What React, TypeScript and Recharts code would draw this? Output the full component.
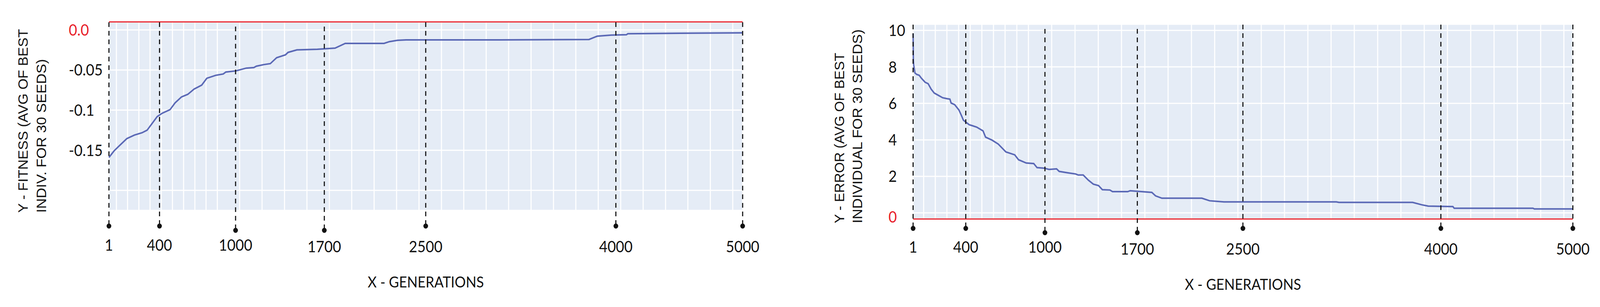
import React from 'react';
import { LineChart, Line, XAxis, YAxis, CartesianGrid, ReferenceLine } from 'recharts';

// marked generations on the x axis
const MARK_GENS = [1, 400, 1000, 1700, 2500, 4000, 5000];
const MARK_LABELS = ['1', '400', '1000', '1700', '2500', '4000', '5000'];
const LOWERED_MARKS = [1000, 1700];

// left panel: fitness of best individual (avg of 30 seeds)
const FITNESS_GENS = [
  1, 42, 82, 142, 202, 262, 302, 342, 382, 422, 483, 523, 573, 623, 673, 733, 773, 843, 903, 923,
  1004, 1084, 1144, 1164, 1224, 1274, 1324, 1394, 1414, 1484, 1645, 1785, 1865, 2171, 2214, 2280,
  2345, 3088, 3788, 3853, 3963, 4083, 4094, 4509, 5000,
];
const FITNESS_VALUES = [
  -0.159, -0.1507, -0.1446, -0.1355, -0.1311, -0.1282, -0.125, -0.1165, -0.108, -0.1038, -0.0994,
  -0.0909, -0.0836, -0.0803, -0.0737, -0.0688, -0.0603, -0.0566, -0.0549, -0.0525, -0.051, -0.0476,
  -0.0469, -0.0452, -0.0432, -0.042, -0.0346, -0.031, -0.028, -0.0249, -0.0241, -0.0227, -0.0168,
  -0.0168, -0.0146, -0.0129, -0.0124, -0.0124, -0.0119, -0.0078, -0.0065, -0.006, -0.0048, -0.0041,
  -0.0036,
];
const FITNESS_TICKS = [0, -0.05, -0.1, -0.15, -0.2];
const FITNESS_TICK_LABELS = ['0.0', '-0.05', '-0.1', '-0.15', ''];
const FITNESS_TITLE = ['Y - FITNESS (AVG OF BEST', 'INDIV. FOR 30 SEEDS)'];

// right panel: error of best individual (avg of 30 seeds)
const ERROR_GENS = [
  1, 3, 5, 15, 28, 47, 65, 92, 115, 138, 161, 193, 225, 257, 280, 289, 316, 348, 367, 382, 426, 444,
  483, 531, 550, 598, 646, 704, 771, 800, 858, 915, 940, 992, 1031, 1088, 1108, 1175, 1233, 1252,
  1290, 1329, 1367, 1406, 1435, 1492, 1512, 1627, 1646, 1810, 1838, 1886, 2189, 2248, 2356, 3208,
  3228, 3786, 3855, 3904, 4091, 4101, 4698, 4708, 5000,
];
const ERROR_VALUES = [
  9.83, 8.39, 8.13, 7.67, 7.59, 7.54, 7.37, 7.16, 7.08, 6.78, 6.57, 6.44, 6.31, 6.26, 6.23, 6.02,
  5.93, 5.64, 5.34, 5.08, 4.83, 4.79, 4.7, 4.49, 4.15, 3.99, 3.77, 3.34, 3.18, 2.91, 2.73, 2.7, 2.48,
  2.45, 2.38, 2.41, 2.27, 2.19, 2.13, 2.07, 2.07, 1.79, 1.57, 1.49, 1.27, 1.25, 1.16, 1.16, 1.21,
  1.12, 0.93, 0.8, 0.8, 0.66, 0.6, 0.6, 0.57, 0.57, 0.44, 0.37, 0.34, 0.25, 0.25, 0.21, 0.21,
];
const ERROR_TICKS = [0, 2, 4, 6, 8, 10];
const ERROR_TICK_LABELS = ['0', '2', '4', '6', '8', '10'];
const ERROR_TITLE = ['Y - ERROR (AVG OF BEST', 'INDIVIDUAL FOR 30 SEEDS)'];

const X_TITLE = 'X - GENERATIONS';

const BLUE = '#5b69b6';
const RED = '#e8202a';
const INK = '#111111';
const PLOT_BG = '#e5ecf6';
const TICK_FONT = 'Lato, "Open Sans", sans-serif';
const TITLE_FONT = '"Liberation Sans", Arial, sans-serif';

// the figure is laid out on a 4421 px wide canvas
const PAGE_W = 4421;
const PAGE_H = 785;

const gridGens = (start: number, step: number) =>
  Array.from({ length: 56 }, (_, i) => Math.round(start + i * step));

const LEFT_LAYOUT = {
  left: 0, width: 2200, plotLeft: 301, plotRight: 2052, plotTop: 56, plotBottom: 538,
  yLabelX: 190, zeroShift: 0, dashTop: 57, dotY: 578, labelY: [641, 645],
  titleX: [77, 127], titleBottom: 544, titleLen: [470, 393], xTitleY: 735,
  gridStart: 60, gridStep: 88.4,
};
const RIGHT_LAYOUT = {
  left: 2250, width: 2171, plotLeft: 273, plotRight: 2096, plotTop: 62, plotBottom: 560,
  yLabelX: 205, zeroShift: 10, dashTop: 63, dotY: 584, labelY: [646, 651],
  titleX: [83, 132], titleBottom: 571, titleLen: [436, 496], xTitleY: 741,
  gridStart: 81, gridStep: 88.2,
};

type Layout = typeof LEFT_LAYOUT;

function YTitle({ lines, lay }: { lines: string[]; lay: Layout }) {
  return (
    <g>
      {lines.map((line, i) => (
        <text
          key={i}
          transform={`translate(${lay.titleX[i]},${lay.titleBottom}) rotate(-90)`}
          textAnchor="start"
          fontFamily={TITLE_FONT}
          fontSize={38}
          textLength={lay.titleLen[i]}
          lengthAdjust="spacingAndGlyphs"
          fill={INK}
        >
          {line}
        </text>
      ))}
    </g>
  );
}

function XTitle({ lay }: { lay: Layout }) {
  return (
    <text
      x={(lay.plotLeft + lay.plotRight) / 2}
      y={lay.xTitleY}
      textAnchor="middle"
      fontFamily={TICK_FONT}
      fontSize={39}
      textLength={321}
      lengthAdjust="spacingAndGlyphs"
      fill={INK}
    >
      {X_TITLE}
    </text>
  );
}

const genTick = (lay: Layout) => (props: any) => {
  const { x, payload } = props;
  const idx = MARK_GENS.indexOf(payload.value);
  if (idx < 0) return <g />;
  const drop = LOWERED_MARKS.includes(payload.value) ? 11 : 0;
  return (
    <g>
      <line
        x1={x}
        x2={x}
        y1={lay.dashTop + drop}
        y2={lay.dotY + drop}
        stroke={INK}
        strokeWidth={3}
        strokeDasharray="12 10"
      />
      <circle cx={x} cy={lay.dotY + drop} r={6.5} fill={INK} />
      <text
        x={x}
        y={idx < 3 ? lay.labelY[0] : lay.labelY[1]}
        textAnchor="middle"
        fontFamily={TICK_FONT}
        fontSize={40}
        fill={INK}
      >
        {MARK_LABELS[idx]}
      </text>
    </g>
  );
};

const valueTick = (lay: Layout, ticks: number[], labels: string[]) => (props: any) => {
  const { y, payload } = props;
  const idx = ticks.indexOf(payload.value);
  const isZero = payload.value === 0;
  return (
    <text
      x={lay.yLabelX}
      y={y + (isZero ? lay.zeroShift : 0)}
      dy="0.36em"
      textAnchor="start"
      fontFamily={TICK_FONT}
      fontSize={40}
      fill={isZero ? RED : INK}
    >
      {idx >= 0 ? labels[idx] : ''}
    </text>
  );
};

function Panel({
  lay, gens, values, domain, ticks, tickLabels, redY, title,
}: {
  lay: Layout; gens: number[]; values: number[]; domain: [number, number];
  ticks: number[]; tickLabels: string[]; redY: number; title: string[];
}) {
  const data = gens.map((g, i) => ({ gen: g, value: values[i] }));
  const xAxisHeight = 40;
  const margin = {
    top: lay.plotTop,
    right: lay.width - lay.plotRight,
    bottom: PAGE_H - lay.plotBottom - xAxisHeight,
    left: 0,
  };
  return (
    <div style={{ position: 'absolute', left: lay.left, top: 0 }}>
      <LineChart width={lay.width} height={PAGE_H} data={data} margin={margin}>
        <XAxis
          xAxisId="grid"
          type="number"
          dataKey="gen"
          domain={[1, 5000]}
          ticks={gridGens(lay.gridStart, lay.gridStep)}
          hide
        />
        <CartesianGrid xAxisId="grid" fill={PLOT_BG} fillOpacity={1} stroke="#ffffff" strokeWidth={3} />
        <YAxis
          type="number"
          domain={domain}
          ticks={ticks}
          interval={0}
          width={lay.plotLeft}
          axisLine={false}
          tickLine={false}
          tick={valueTick(lay, ticks, tickLabels)}
          label={<YTitle lines={title} lay={lay} />}
        />
        <ReferenceLine y={redY} stroke={RED} strokeWidth={3} />
        <Line
          type="linear"
          dataKey="value"
          stroke={BLUE}
          strokeWidth={4}
          dot={false}
          isAnimationActive={false}
        />
        <XAxis
          type="number"
          dataKey="gen"
          domain={[1, 5000]}
          ticks={MARK_GENS}
          interval={0}
          height={xAxisHeight}
          axisLine={false}
          tickLine={false}
          tick={genTick(lay)}
          label={<XTitle lay={lay} />}
        />
      </LineChart>
    </div>
  );
}

export default function App() {
  // the browser window may be narrower than the figure; squeeze horizontally to fit
  const viewW = typeof window !== 'undefined' ? window.innerWidth : PAGE_W;
  const sx = Math.min(1, viewW / PAGE_W);
  return (
    <div
      style={{
        position: 'absolute',
        left: 0,
        top: 0,
        width: PAGE_W,
        height: PAGE_H,
        background: '#ffffff',
        transform: `scale(${sx}, 1)`,
        transformOrigin: '0 0',
      }}
    >
      <Panel
        lay={LEFT_LAYOUT}
        gens={FITNESS_GENS}
        values={FITNESS_VALUES}
        domain={[-0.225, 0.01]}
        ticks={FITNESS_TICKS}
        tickLabels={FITNESS_TICK_LABELS}
        redY={0.01}
        title={FITNESS_TITLE}
      />
      <Panel
        lay={RIGHT_LAYOUT}
        gens={ERROR_GENS}
        values={ERROR_VALUES}
        domain={[-0.34, 10.34]}
        ticks={ERROR_TICKS}
        tickLabels={ERROR_TICK_LABELS}
        redY={-0.34}
        title={ERROR_TITLE}
      />
    </div>
  );
}
